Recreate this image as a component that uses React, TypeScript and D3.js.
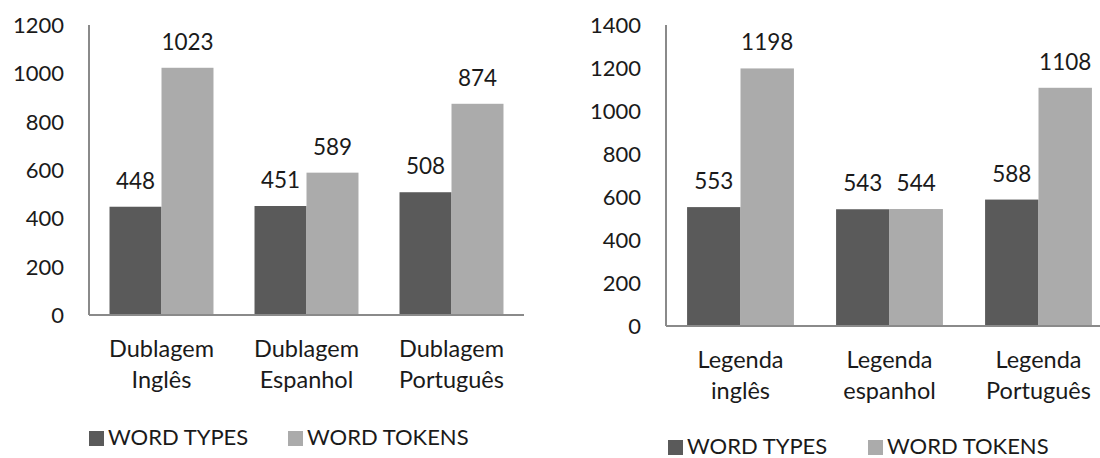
import React from "react";
import * as d3 from "d3";

const width = 1100;
const height = 458;

const seriesNames = ["WORD TYPES", "WORD TOKENS"];
const seriesColors = ["#5a5a5a", "#ababab"];

const dubCategories = [["Dublagem", "Inglês"], ["Dublagem", "Espanhol"], ["Dublagem", "Português"]];
const dubTypes = [448, 451, 508];
const dubTokens = [1023, 589, 874];
const dubTicks = [0, 200, 400, 600, 800, 1000, 1200];

const legCategories = [["Legenda", "inglês"], ["Legenda", "espanhol"], ["Legenda", "Português"]];
const legTypes = [553, 543, 588];
const legTokens = [1198, 544, 1108];
const legTicks = [0, 200, 400, 600, 800, 1000, 1200, 1400];

const font = "Lato, 'Open Sans', sans-serif";

type PanelProps = {
    categories: string[][];
    types: number[];
    tokens: number[];
    ticks: number[];
    left: number;
    right: number;
    top: number;
    bottom: number;
    legendY: number;
    legendX: number[];
};

function BarPanel({ categories, types, tokens, ticks, left, right, top, bottom, legendY, legendX }: PanelProps) {
    const keys = categories.map((c) => c.join(" "));
    const x0 = d3.scaleBand<string>()
        .domain(keys)
        .range([left, right])
        .paddingInner(0.283)
        .paddingOuter(0.1415);
    const x1 = d3.scaleBand<number>()
        .domain([0, 1])
        .range([0, x0.bandwidth()]);
    const y = d3.scaleLinear()
        .domain([0, d3.max(ticks) as number])
        .range([bottom, top]);

    const values = [types, tokens];

    return (
        <g>
            {/* y tick labels */}
            {ticks.map((t) => (
                <text key={t} x={left - 25} y={y(t)} dy="0.36em" textAnchor="end"
                    fontSize={22} fill="#1a1a1a">{t}</text>
            ))}

            {/* bars + value labels */}
            {keys.map((k, i) => (
                <g key={k} transform={`translate(${x0(k)},0)`}>
                    {values.map((vals, s) => (
                        <g key={s}>
                            <rect x={x1(s)} y={y(vals[i])} width={x1.bandwidth()}
                                height={bottom - y(vals[i])} fill={seriesColors[s]} />
                            <text x={(x1(s) as number) + x1.bandwidth() / 2} y={y(vals[i]) - 18}
                                textAnchor="middle" fontSize={22.5} fill="#1a1a1a">{vals[i]}</text>
                        </g>
                    ))}
                </g>
            ))}

            {/* axis lines */}
            <line x1={left} x2={left} y1={top} y2={bottom} stroke="#8a8a8a" strokeWidth={2} />
            <line x1={left} x2={right} y1={bottom} y2={bottom} stroke="#8a8a8a" strokeWidth={2} />

            {/* category labels */}
            {categories.map((c, i) => {
                const cx = (x0(keys[i]) as number) + x0.bandwidth() / 2;
                return (
                    <text key={keys[i]} x={cx} y={bottom + 42}
                        textAnchor="middle" fontSize={23.5} fill="#1a1a1a">
                        <tspan x={cx}>{c[0]}</tspan>
                        <tspan x={cx} dy={31}>{c[1]}</tspan>
                    </text>
                );
            })}

            {/* legend */}
            {seriesNames.map((name, s) => (
                <g key={name} transform={`translate(${legendX[s]},${legendY})`}>
                    <rect x={0} y={-14} width={15} height={15} fill={seriesColors[s]} />
                    <text x={19} y={0} fontSize={22} fill="#1a1a1a">{name}</text>
                </g>
            ))}
        </g>
    );
}

export default function App() {
    return (
        <svg width={width} height={height} fontFamily={font}
            style={{ position: "absolute", left: 0, top: 0, background: "#fff", overflow: "hidden" }}>
            <rect width={width} height={height} fill="#fff" />
            <BarPanel categories={dubCategories} types={dubTypes} tokens={dubTokens} ticks={dubTicks}
                left={89} right={524} top={25} bottom={315} legendY={445} legendX={[89, 288]} />
            <BarPanel categories={legCategories} types={legTypes} tokens={legTokens} ticks={legTicks}
                left={666} right={1113} top={25} bottom={326} legendY={454} legendX={[668, 868]} />
        </svg>
    );
}
